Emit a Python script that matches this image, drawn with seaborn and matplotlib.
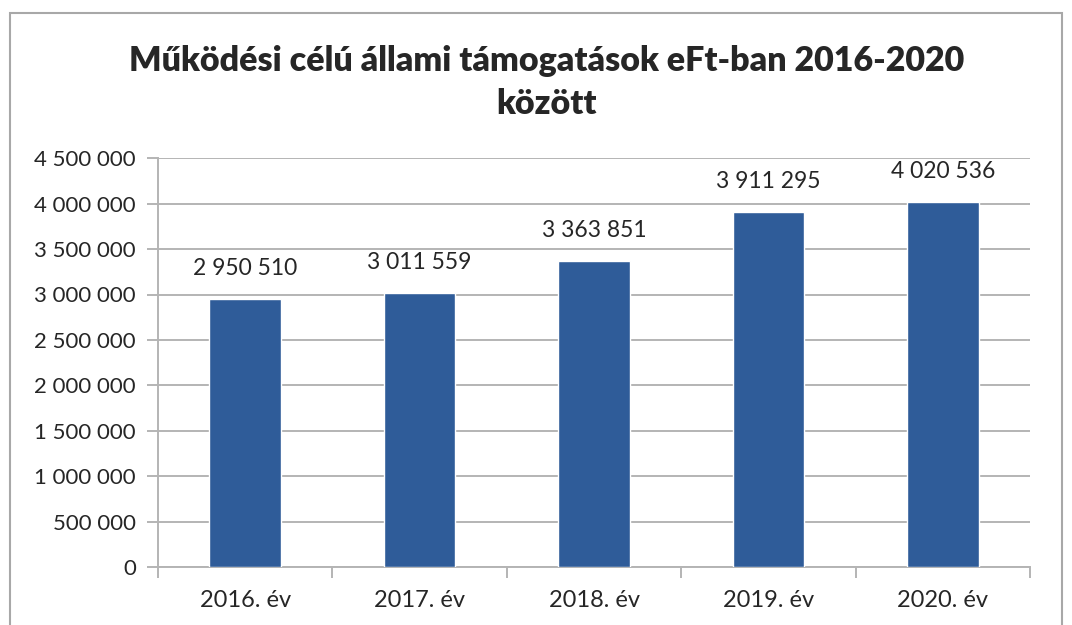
import matplotlib
matplotlib.use('Agg')
import matplotlib.pyplot as plt
import matplotlib.ticker as mticker
from matplotlib.patches import Rectangle
import seaborn as sns
import pandas as pd

# Chart data
years = ["2016. év", "2017. év", "2018. év", "2019. év", "2020. év"]
values = [2950510, 3011559, 3363851, 3911295, 4020536]
title = "Működési célú állami támogatások eFt-ban 2016-2020\nközött"

bar_color = "#2F5C99"
grid_color = "#B4B4B4"
text_color = "#262626"


def space_thousands(v, pos=None):
    return "{:,.0f}".format(v).replace(",", " ")


df = pd.DataFrame({"year": years, "value": values})

sns.set_style("white")
plt.rcParams['font.family'] = ['Lato', 'DejaVu Sans']

fig = plt.figure(figsize=(10.72, 6.25), dpi=100)
ax = fig.add_axes([0.1474, 0.0928, 0.8136, 0.654])

sns.barplot(data=df, x="year", y="value", color=bar_color, width=0.41,
            saturation=1, ax=ax, zorder=3)

ax.set_ylim(0, 4500000)
ax.set_xlim(-0.5, 4.5)
ax.yaxis.set_major_locator(mticker.MultipleLocator(500000))
ax.yaxis.set_major_formatter(mticker.FuncFormatter(space_thousands))
ax.grid(axis="y", color=grid_color, linewidth=1.4, zorder=0)
ax.set_axisbelow(True)
ax.set_xlabel("")
ax.set_ylabel("")

for side in ["top", "right"]:
    ax.spines[side].set_visible(False)
for side in ["left", "bottom"]:
    ax.spines[side].set_color(grid_color)
    ax.spines[side].set_linewidth(1.4)

ax.tick_params(axis="y", left=True, length=8, width=1.4, color=grid_color,
               labelsize=16, labelcolor=text_color, pad=8)
ax.tick_params(axis="x", bottom=False, labelsize=17, labelcolor=text_color, pad=13)
ax.set_xticks([i - 0.5 for i in range(len(years) + 1)], minor=True)
ax.tick_params(axis="x", which="minor", bottom=True, length=8, width=1.4,
               color=grid_color)

# data labels above the bars
for i, v in enumerate(values):
    ax.annotate(space_thousands(v), (i, v), xytext=(0, 22), textcoords="offset points",
                ha="center", va="center", fontsize=16.5, color=text_color)

fig.text(0.51, 0.868, title, ha="center", va="center", fontsize=24.5,
         fontweight="heavy", color=text_color, linespacing=1.45)

# outer chart frame
fig.patches.append(Rectangle((10 / 1072, -0.05), 1052 / 1072, 1.05 - 13 / 625,
                             transform=fig.transFigure, fill=False,
                             edgecolor="#A8A8A8", linewidth=1.5))

fig.savefig("out.png", dpi=100)
